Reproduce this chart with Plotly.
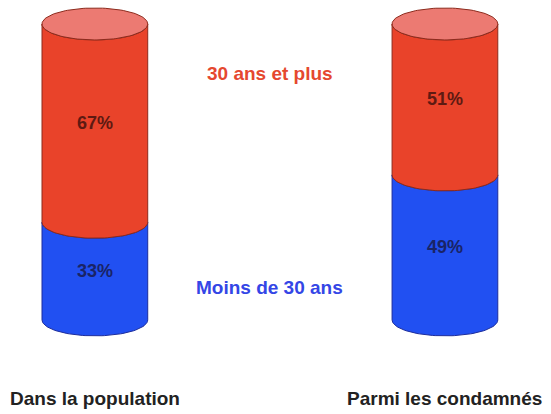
import numpy as np
import plotly.graph_objects as go

# data
groupes = ["Dans la population", "Parmi les condamnés"]
series = ["Moins de 30 ans", "30 ans et plus"]
moins_30 = [33, 49]
plus_30 = [67, 51]

# styling
couleurs = {"Moins de 30 ans": "#2150f2", "30 ans et plus": "#e9432a"}
contours = {"Moins de 30 ans": "#1c2c9c", "30 ans et plus": "#8c2a1c"}
texte_pct = {"Moins de 30 ans": "#1a2466", "30 ans et plus": "#5e1a12"}
texte_lbl = {"Moins de 30 ans": "#3446e6", "30 ans et plus": "#e5482f"}
cap_color = "#ec7a72"
FONT = "Liberation Sans, Arial, sans-serif"

HALF_W = 0.151   # half width of a cylinder in x units
RY = 5.4         # vertical radius of the ellipses in y units
t = np.linspace(np.pi, 2 * np.pi, 60)


def segment(xc, y0, y1):
    # front face of a cylinder slice: lower half ellipse at y0, back along lower half at y1
    xs = np.concatenate([xc + HALF_W * np.cos(t), xc + HALF_W * np.cos(t[::-1])])
    ys = np.concatenate([y0 + RY * np.sin(t), y1 + RY * np.sin(t[::-1])])
    return np.append(xs, xs[0]), np.append(ys, ys[0])


fig = go.Figure()

for i, g in enumerate(groupes):
    bas = 0
    for s, vals in zip(series, [moins_30, plus_30]):
        v = vals[i]
        xs, ys = segment(i, bas, bas + v)
        fig.add_trace(go.Scatter(
            x=xs, y=ys, mode="lines", fill="toself",
            fillcolor=couleurs[s], line=dict(color=contours[s], width=1),
            hoverinfo="skip", showlegend=False,
        ))
        fig.add_annotation(
            x=i, y=bas + v / 2, text=f"<b>{v}%</b>", showarrow=False,
            font=dict(family=FONT, size=18, color=texte_pct[s]),
        )
        bas += v
    # top cap
    tt = np.linspace(0, 2 * np.pi, 120)
    fig.add_trace(go.Scatter(
        x=i + HALF_W * np.cos(tt), y=bas + RY * np.sin(tt), mode="lines", fill="toself",
        fillcolor=cap_color, line=dict(color=contours["30 ans et plus"], width=1),
        hoverinfo="skip", showlegend=False,
    ))
    fig.add_annotation(
        x=i, y=-26.4, text=f"<b>{g}</b>", showarrow=False,
        font=dict(family=FONT, size=19, color="#222222"),
    )

# series labels in the middle
fig.add_annotation(x=0.5, y=83.4, text="<b>30 ans et plus</b>", showarrow=False,
                   font=dict(family=FONT, size=19, color=texte_lbl["30 ans et plus"]))
fig.add_annotation(x=0.5, y=10.8, text="<b>Moins de 30 ans</b>", showarrow=False,
                   font=dict(family=FONT, size=19, color=texte_lbl["Moins de 30 ans"]))

fig.update_layout(
    width=551, height=414,
    margin=dict(l=0, r=0, t=0, b=0),
    paper_bgcolor="white", plot_bgcolor="white",
    xaxis=dict(range=[-0.271, 1.303], visible=False, fixedrange=True),
    yaxis=dict(range=[-31.8, 108.1], visible=False, fixedrange=True),
)

fig.write_html("out.html", config={"displayModeBar": False},
               post_script="document.body.style.margin='0';")
